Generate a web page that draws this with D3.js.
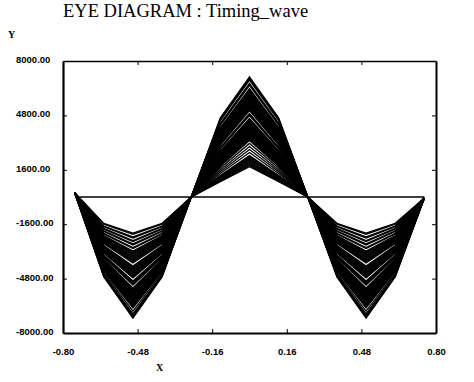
<!DOCTYPE html>
<html>
<head>
<meta charset="utf-8">
<script src="https://cdn.jsdelivr.net/npm/d3@7"></script>
<style>
    body { margin: 0; background: #fff; }
    svg { display: block; font-family: "Liberation Serif", "Times New Roman", serif; }
    .axis text { font-size: 9.5px; font-weight: bold; fill: #000; }
    .axis line, .axis path { stroke: #000; }
</style>
</head>
<body>
<div id="chart"></div>
<script>
// tick labels
var xTickValues = [-0.80, -0.48, -0.16, 0.16, 0.48, 0.80];
var yTickValues = [-8000, -4800, -1600, 1600, 4800, 8000];

// sample instants of one symbol window
var sampleX = [-0.75, -0.625, -0.5, -0.375, -0.25, -0.125, 0, 0.125, 0.25, 0.375, 0.5, 0.625, 0.75];

// values at the window edges and the zero crossings
var leftEdgeValue = 250;
var rightEdgeValue = -60;
var crossingValue = 0;

// negative lobes (left and right): bottom value and shoulder value of each trace
var troughApex = [-2120, -2190, -2350, -2410, -2560, -2620, -2760, -2820, -2970, -3030,
    -3180, -3240, -3290, -3350, -3410, -3470, -3530, -3590, -3650, -3710, -3760, -3820, -3880,
    -4060, -4120, -4180, -4240, -4290, -4350, -4410, -4470, -4530, -4590, -4650, -4710, -4760,
    -4940, -5000, -5060, -5120, -5180,
    -5350, -5410, -5470, -5530, -5590, -5650, -5710, -5760, -5820, -5880, -5940, -6000, -6060,
    -6120, -6180, -6240, -6290, -6350, -6410, -6470, -6530,
    -6710, -6880, -6940, -7000, -7060, -7120];
var troughShoulder = [-1550, -1600, -1710, -1750, -1850, -1890, -1990, -2030, -2130, -2170,
    -2270, -2310, -2350, -2390, -2430, -2470, -2510, -2550, -2590, -2630, -2660, -2700, -2740,
    -2850, -2890, -2930, -2970, -3000, -3040, -3080, -3120, -3150, -3190, -3230, -3270, -3300,
    -3410, -3450, -3490, -3520, -3560,
    -3660, -3700, -3740, -3770, -3810, -3850, -3880, -3910, -3950, -3980, -4020, -4050, -4090,
    -4120, -4160, -4200, -4220, -4260, -4290, -4330, -4360,
    -4470, -4560, -4600, -4630, -4670, -4700];

// positive lobe: top value and shoulder value of each trace
var peakApex = [7060, 7000, 6940, 6880, 6680, 6620, 6560,
    6380, 6320, 6260, 6210, 6150, 6090, 6030, 5970, 5910, 5850, 5790, 5740, 5680, 5620, 5560,
    5500, 5440, 5380, 5320, 5260, 5210, 5150, 5090,
    4910, 4850, 4790,
    4620, 4560, 4500, 4440, 4380, 4320, 4260, 4210, 4150, 4090, 4030, 3970, 3910, 3850, 3790,
    3740, 3680, 3620, 3560, 3500, 3440, 3380, 3320,
    3150, 2970, 2790, 2620,
    2440, 2380, 2320, 2260, 2210, 2150, 2090, 2030, 1970, 1910, 1850, 1790];
var peakShoulder = [4660, 4610, 4560, 4500, 4330, 4280, 4230,
    4080, 4030, 3980, 3940, 3890, 3840, 3790, 3740, 3690, 3650, 3600, 3560, 3510, 3460, 3420,
    3370, 3320, 3280, 3230, 3180, 3150, 3100, 3050,
    2920, 2880, 2830,
    2710, 2660, 2620, 2580, 2530, 2490, 2450, 2410, 2370, 2330, 2290, 2250, 2210, 2170, 2130,
    2090, 2050, 2010, 1970, 1930, 1890, 1850, 1810,
    1710, 1590, 1480, 1380,
    1270, 1230, 1200, 1160, 1130, 1100, 1060, 1030, 1000, 960, 930, 900];

// flat trace along zero
var baselineX = [-0.73, 0.75];
var baselineY = [0, 0];

var w = 474;
var h = 382;
var margin = {top: 61, right: 38, bottom: 49, left: 63};

var svg = d3.select("#chart")
    .append("svg")
    .attr("width", w)
    .attr("height", h);

var x = d3.scaleLinear()
    .domain([-0.8, 0.8])
    .range([margin.left, w - margin.right]);

var y = d3.scaleLinear()
    .domain([-8000, 8000])
    .range([h - margin.bottom, margin.top]);

var line = d3.line()
    .x(function (d) { return x(d[0]); })
    .y(function (d) { return y(d[1]); });

//Traces
var traces = svg.append("g").attr("class", "traces");

function drawLobe(xs, startVal, apex, shoulder, endVal) {
    for (var i = 0; i < apex.length; i++) {
        var vals = [startVal, shoulder[i], apex[i], shoulder[i], endVal];
        var pts = xs.map(function (xv, j) { return [xv, vals[j]]; });
        traces.append("path")
            .attr("d", line(pts))
            .attr("fill", "none")
            .attr("stroke", "#000")
            .attr("stroke-width", 1.3)
            .attr("stroke-linejoin", "miter");
    }
}

drawLobe(sampleX.slice(0, 5), leftEdgeValue, troughApex, troughShoulder, crossingValue);
drawLobe(sampleX.slice(4, 9), crossingValue, peakApex, peakShoulder, crossingValue);
drawLobe(sampleX.slice(8, 13), crossingValue, troughApex, troughShoulder, rightEdgeValue);

traces.append("path")
    .attr("d", line(baselineX.map(function (xv, j) { return [xv, baselineY[j]]; })))
    .attr("fill", "none")
    .attr("stroke", "#000")
    .attr("stroke-width", 1.6);

//Axes
var fmt = function (d) { return d.toFixed(2); };
var x0 = margin.left, x1 = w - margin.right, y0 = h - margin.bottom, y1 = margin.top;

var xAxis = svg.append("g")
    .attr("class", "axis")
    .attr("transform", "translate(0," + y0 + ")")
    .call(d3.axisBottom(x).tickValues(xTickValues).tickFormat(fmt).tickSize(-4).tickSizeOuter(0).tickPadding(15));
xAxis.select(".domain").attr("stroke-width", 2.2);

svg.append("g")
    .attr("class", "axis")
    .attr("transform", "translate(0," + y1 + ")")
    .call(d3.axisTop(x).tickValues(xTickValues.slice(1, 5)).tickFormat("").tickSize(-4).tickSizeOuter(0))
    .select(".domain").attr("stroke-width", 1.6);

var yAxis = svg.append("g")
    .attr("class", "axis")
    .attr("transform", "translate(" + x0 + ",0)")
    .call(d3.axisLeft(y).tickValues(yTickValues).tickFormat(fmt).tickSize(-4).tickSizeOuter(0));
yAxis.select(".domain").attr("stroke-width", 2.2);
yAxis.selectAll("text")
    .attr("text-anchor", "start")
    .attr("x", 16 - x0)
    .attr("y", -1.5);

svg.append("g")
    .attr("class", "axis")
    .attr("transform", "translate(" + x1 + ",0)")
    .call(d3.axisRight(y).tickValues(yTickValues.slice(1, 5)).tickFormat("").tickSize(-4).tickSizeOuter(0))
    .select(".domain").attr("stroke-width", 2);

//Titles
svg.append("text")
    .attr("x", 63)
    .attr("y", 17)
    .style("font-size", "18.5px")
    .text("EYE DIAGRAM : Timing_wave");

svg.append("text")
    .attr("x", 11.5)
    .attr("y", 37.5)
    .attr("text-anchor", "middle")
    .style("font-size", "10px")
    .style("font-weight", "bold")
    .text("Y");

svg.append("text")
    .attr("x", 159.5)
    .attr("y", 371)
    .attr("text-anchor", "middle")
    .style("font-size", "10px")
    .style("font-weight", "bold")
    .text("X");
</script>
</body>
</html>
